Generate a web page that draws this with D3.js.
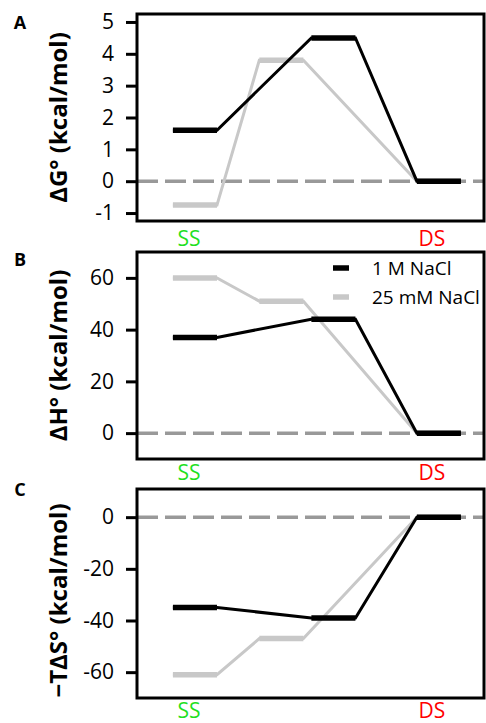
<!DOCTYPE html>
<html>
<head>
<script src="https://d3js.org/d3.v7.min.js"></script>
<style>
body { margin: 0; background: #fff; }
svg text { font-family: "Open Sans", sans-serif; }
</style>
</head>
<body>
<svg id="chart"></svg>
<script>
// series and levels (x in arbitrary reaction-coordinate units, 0-100)
const seriesNames = ["1 M NaCl", "25 mM NaCl"];
const xHighSalt = [16.7, 56.6, 87.0];
const xLowSalt = [16.7, 41.6, 87.0];

const dGHigh = [1.6, 4.5, 0];
const dGLow = [-0.75, 3.8, 0];
const dHHigh = [37, 44, 0];
const dHLow = [60, 51, 0];
const tdsHigh = [-35, -39, 0];
const tdsLow = [-61, -47, 0];

const dGTicks = [-1, 0, 1, 2, 3, 4, 5];
const dHTicks = [0, 20, 40, 60];
const tdsTicks = [-60, -40, -20, 0];

const endLabels = ["SS", "DS"];
const endLabelX = [15.0, 85.0];

const width = 486, height = 723;
const levelW = 12.7;
const colors = ["#000", "#c8c8c8"];
const labelColors = ["#1fe01f", "#ff0000"];

const panels = [
  { letter: "A", title: "ΔG° (kcal/mol)", top: 14, bottom: 221, domain: [-1.25, 5.25],
    ticks: dGTicks, vals: [dGHigh, dGLow], letterY: 29, labelY: 246, titleShift: 0 },
  { letter: "B", title: "ΔH° (kcal/mol)", top: 252, bottom: 459, domain: [-10, 70],
    ticks: dHTicks, vals: [dHHigh, dHLow], letterY: 266, labelY: 480, titleShift: 0, legend: true },
  { letter: "C", title: "−TΔS° (kcal/mol)", top: 489, bottom: 698, domain: [-70, 10.9],
    ticks: tdsTicks, vals: [tdsHigh, tdsLow], letterY: 496, labelY: 718, titleShift: 7 }
];
const xPos = [xHighSalt, xLowSalt];

const svg = d3.select("#chart").attr("width", width).attr("height", height);

const x = d3.scaleLinear().domain([0, 100]).range([137, 484]);

panels.forEach(p => {
  const y = d3.scaleLinear().domain(p.domain).range([p.bottom, p.top]);
  const g = svg.append("g");

  // zero line
  g.append("line")
    .attr("x1", x(0)).attr("x2", x(100))
    .attr("y1", y(0)).attr("y2", y(0))
    .attr("stroke", "#999").attr("stroke-width", 3.5)
    .attr("stroke-dasharray", "21,7");

  // series, low salt first so black sits on top
  [1, 0].forEach(s => {
    const pts = [];
    xPos[s].forEach((cx, i) => {
      pts.push([cx - levelW / 2, p.vals[s][i]]);
      pts.push([cx + levelW / 2, p.vals[s][i]]);
    });
    g.append("path")
      .attr("d", d3.line().x(d => x(d[0])).y(d => y(d[1]))(pts))
      .attr("fill", "none")
      .attr("stroke", colors[s])
      .attr("stroke-width", 3);
    g.selectAll(null)
      .data(xPos[s].map((cx, i) => [cx, p.vals[s][i]]))
      .enter().append("line")
      .attr("x1", d => x(d[0] - levelW / 2))
      .attr("x2", d => x(d[0] + levelW / 2))
      .attr("y1", d => y(d[1])).attr("y2", d => y(d[1]))
      .attr("stroke", colors[s])
      .attr("stroke-width", 5.5);
  });

  // frame
  g.append("rect")
    .attr("x", x(0)).attr("y", p.top)
    .attr("width", x(100) - x(0)).attr("height", p.bottom - p.top)
    .attr("fill", "none").attr("stroke", "#000").attr("stroke-width", 3);

  // y axis
  const ax = g.append("g")
    .attr("transform", `translate(${x(0)},0)`)
    .call(d3.axisLeft(y).tickValues(p.ticks).tickSize(11).tickPadding(12)
      .tickFormat(d => String(d)));
  ax.select(".domain").remove();
  ax.selectAll(".tick line").attr("stroke", "#000").attr("stroke-width", 3);
  ax.selectAll(".tick text")
    .attr("font-size", 21).attr("fill", "#000");

  // axis title
  g.append("text")
    .attr("transform", `translate(67,${(p.top + p.bottom) / 2 + p.titleShift}) rotate(-90)`)
    .attr("text-anchor", "middle")
    .attr("font-size", 24).attr("font-weight", "bold")
    .text(p.title);

  // panel letter
  g.append("text")
    .attr("x", 20).attr("y", p.letterY)
    .attr("text-anchor", "middle")
    .attr("font-size", 18).attr("font-weight", "bold")
    .text(p.letter);

  // SS / DS labels
  g.selectAll(null).data(endLabels).enter().append("text")
    .attr("x", (d, i) => x(endLabelX[i]))
    .attr("y", p.labelY)
    .attr("text-anchor", "middle")
    .attr("font-size", 21)
    .attr("fill", (d, i) => labelColors[i])
    .text(d => d);

  if (p.legend) {
    const lg = g.append("g");
    seriesNames.forEach((name, i) => {
      const ly = 268 + i * 29;
      lg.append("line")
        .attr("x1", 333).attr("x2", 349).attr("y1", ly).attr("y2", ly)
        .attr("stroke", colors[i]).attr("stroke-width", 5.5);
      lg.append("text")
        .attr("x", 372).attr("y", ly + 7)
        .attr("font-size", 19).attr("fill", "#000")
        .text(name);
    });
  }
});
</script>
</body>
</html>
